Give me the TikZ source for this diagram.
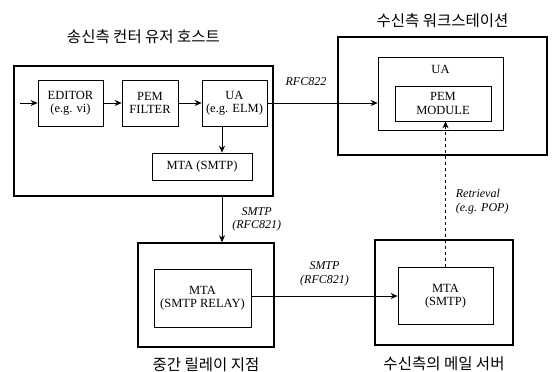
\documentclass[tikz,border=0pt]{standalone}
\usepackage{fontspec}
\setmainfont{Liberation Serif}
\newfontfamily\kr{Noto Sans CJK KR}
\usetikzlibrary{arrows.meta, positioning}

\begin{document}
\begin{tikzpicture}[x=1pt, y=-1pt,
    outer/.style={draw, line width=1.4pt, inner sep=0pt},
    blk/.style={draw, line width=0.7pt, align=center, font=\fontsize{12.5}{13.5}\selectfont},
    ttl/.style={font=\kr\fontsize{15.5}{16}\selectfont, inner sep=0pt},
    lbl/.style={font=\itshape\fontsize{12}{13.5}\selectfont, align=center, inner sep=1pt},
    arr/.style={-{Stealth[length=7pt, width=6pt]}, line width=0.7pt}
  ]
    \useasboundingbox (0,0) rectangle (552,372);

    % sending host
    \node[outer, minimum width=259pt, minimum height=130pt] (host) at (143.5,131) {};
    \node[blk, minimum width=65pt, minimum height=46pt] (editor) at (70.5,103) {EDITOR\\(e.g. vi)};
    \node[blk, minimum width=56pt, minimum height=46pt] (pemf) at (150,103) {PEM\\FILTER};
    \node[blk, minimum width=65pt, minimum height=46pt] (ua) at (234.5,103) {UA\\(e.g. ELM)};
    \node[blk, minimum width=100pt, minimum height=27pt] (mta) at (202,166.5) {MTA (SMTP)};
    \node[ttl, above=21pt of host] (hostt) {송신측 컨터 유저 호스트};

    % receiving workstation
    \node[outer, minimum width=209pt, minimum height=118pt] (ws) at (442.5,96) {};
    \node[blk, minimum width=125pt, minimum height=73pt] (wsua) at (440.5,93.5) {};
    \node[blk, minimum width=96pt, minimum height=35pt] (pemm) at (443,103.5) {PEM\\MODULE};
    \node[blk, draw=none, below=5pt of wsua.north] (wsual) {UA};
    \node[ttl, above=8pt of ws] (wst) {수신측 워크스테이션};

    % relay
    \node[outer, minimum width=136pt, minimum height=104pt] (relay) at (206,295) {};
    \node[blk, minimum width=97pt, minimum height=58pt] (relaymta) at (202.5,298) {MTA\\(SMTP RELAY)};
    \node[ttl, below=10pt of relay] (relayt) {중간 릴레이 지점};

    % mail server
    \node[outer, minimum width=138pt, minimum height=105pt] (srv) at (444,292.5) {};
    \node[blk, minimum width=95pt, minimum height=57pt] (srvmta) at (445.5,296) {MTA\\(SMTP)};
    \node[ttl, below=11pt of srv] (srvt) {수신측의 메일 서버};

    \coordinate (in) at (20,103);
    \coordinate (dn) at (222,0);

    \draw[arr] (in) -- (editor);
    \draw[arr] (editor) -- (pemf);
    \draw[arr] (pemf) -- (ua);
    \draw[arr] (ua.south -| dn) -- (mta.north -| dn);
    \draw[arr] (ua.east) -- (ua.east -| wsua.west)
      node[lbl, pos=0.35, above=16pt] (l822) {RFC822};
    \draw[arr] (host.south -| dn) -- (relay.north -| dn)
      node[lbl, midway, right=9pt] (l821a) {SMTP\\(RFC821)};
    \draw[arr] (relaymta.east |- srvmta.west) -- (srvmta.west)
      node[lbl, midway, above=9pt] (l821b) {SMTP\\(RFC821)};
    \draw[arr, dashed] (srvmta.north) -- (srvmta.north |- pemm.south)
      node[lbl, pos=0.45, right=9pt, align=left] (lret) {Retrieval\\(e.g. POP)};
\end{tikzpicture}
\end{document}
